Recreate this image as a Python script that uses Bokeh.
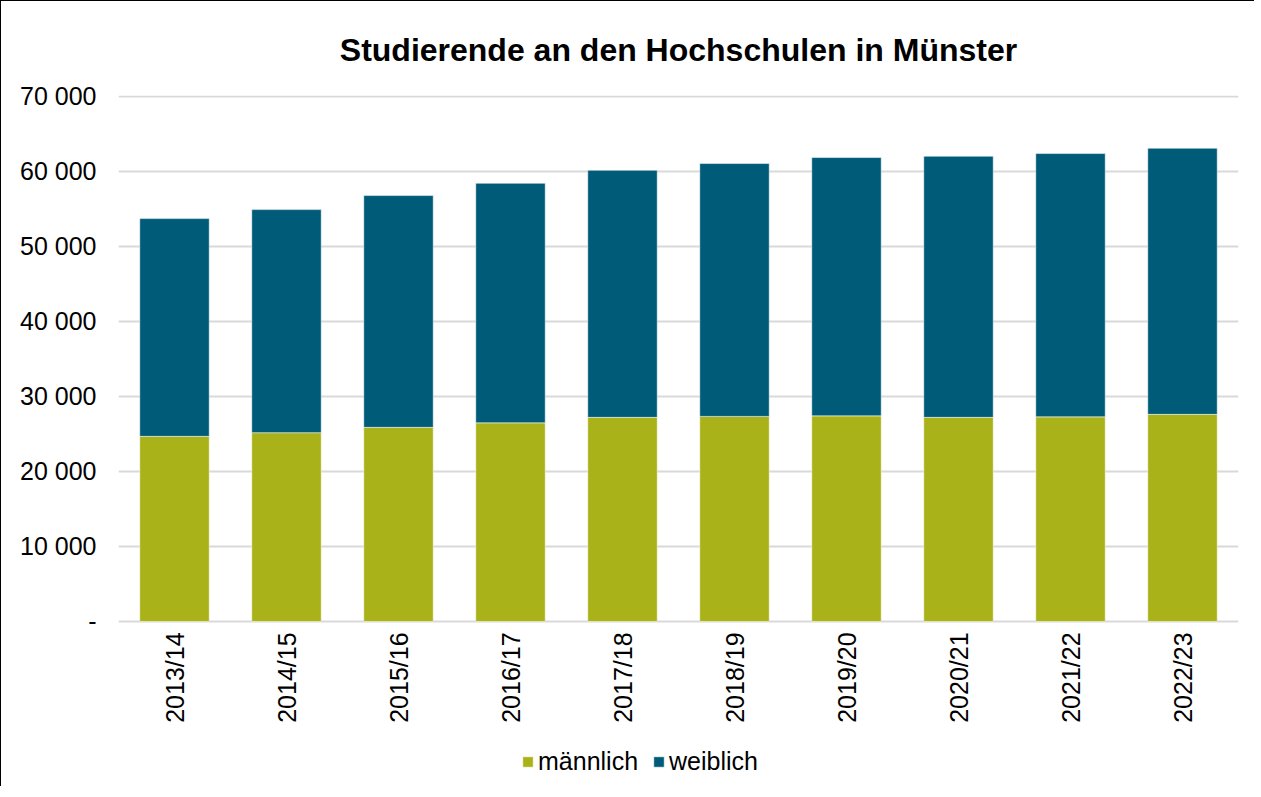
from bokeh.plotting import figure
from bokeh.models import ColumnDataSource, Legend, LegendItem, CustomJSTickFormatter, FixedTicker
from bokeh.core.properties import value
from bokeh.embed import file_html
from bokeh.resources import INLINE
import math

years = ["2013/14", "2014/15", "2015/16", "2016/17", "2017/18",
         "2018/19", "2019/20", "2020/21", "2021/22", "2022/23"]
maennlich = [24670, 25160, 25870, 26470, 27200, 27330, 27400, 27200, 27270, 27600]
gesamt = [53690, 54890, 56760, 58400, 60130, 61030, 61830, 62000, 62360, 63070]
weiblich = [g - m for g, m in zip(gesamt, maennlich)]
y_ticks = [0, 10000, 20000, 30000, 40000, 50000, 60000, 70000]

FONT = "Liberation Sans"
GREEN = "#a9b218"
BLUE = "#005b78"

src = ColumnDataSource(dict(years=years, maennlich=maennlich, weiblich=weiblich,
                            base=[0] * len(years)))

# frame extends below zero to host category labels and legend (7.5 px per 1000)
p = figure(x_range=years, y_range=(-22000, 70100), frame_width=1120, frame_height=691,
           output_backend="svg", toolbar_location=None,
           title="Studierende an den Hochschulen in Münster")
p.min_border_left = 117
p.min_border_right = 16
p.min_border_top = 94
p.min_border_bottom = 0
p.outline_line_color = None
p.background_fill_color = "white"
p.border_fill_color = "white"
p.styles = {"border-left": "1px solid #000000", "border-top": "1px solid #000000"}

p.title.text_font = FONT
p.title.text_font_size = "32px"
p.title.text_font_style = "bold"
p.title.align = "center"
p.title.text_color = "#000000"
p.title.standoff = 55

r = p.vbar_stack(["maennlich", "weiblich"], x="years", width=0.62, source=src,
                 color=[GREEN, BLUE], line_color="white", line_alpha=0.5, line_width=1)

# category labels, rotated, hanging below the zero line
p.text(x="years", y="base", text="years", source=src, angle=math.pi / 2,
       text_align="right", text_baseline="middle", y_offset=11,
       text_font=value(FONT), text_font_size=value("25px"), text_color="#000000")

p.xgrid.grid_line_color = None
p.ygrid.grid_line_color = "#d9d9d9"
p.ygrid.grid_line_width = 2
p.yaxis.ticker = FixedTicker(ticks=y_ticks)
p.yaxis.formatter = CustomJSTickFormatter(code="""
    if (tick == 0) return '-';
    return tick.toString().replace(/\\B(?=(\\d{3})+(?!\\d))/g, ' ');
""")
p.yaxis.axis_line_color = None
p.yaxis.major_tick_line_color = None
p.yaxis.minor_tick_line_color = None
p.yaxis.major_label_text_font = FONT
p.yaxis.major_label_text_font_size = "25px"
p.yaxis.major_label_text_color = "#000000"
p.yaxis.major_label_standoff = 16
p.xaxis.visible = False
p.x_range.range_padding = 0.0

legend = Legend(items=[LegendItem(label="männlich", renderers=[r[0]]),
                       LegendItem(label="weiblich", renderers=[r[1]])],
                orientation="horizontal", location=(403, 10))
legend.label_text_font = FONT
legend.label_text_font_size = "25px"
legend.label_text_color = "#000000"
legend.border_line_color = None
legend.background_fill_alpha = 0
legend.glyph_width = 13
legend.glyph_height = 13
legend.label_standoff = 4
legend.spacing = 14
legend.padding = 0
legend.margin = 0
p.add_layout(legend, "center")

open("out.html", "w").write(file_html(p, INLINE))
